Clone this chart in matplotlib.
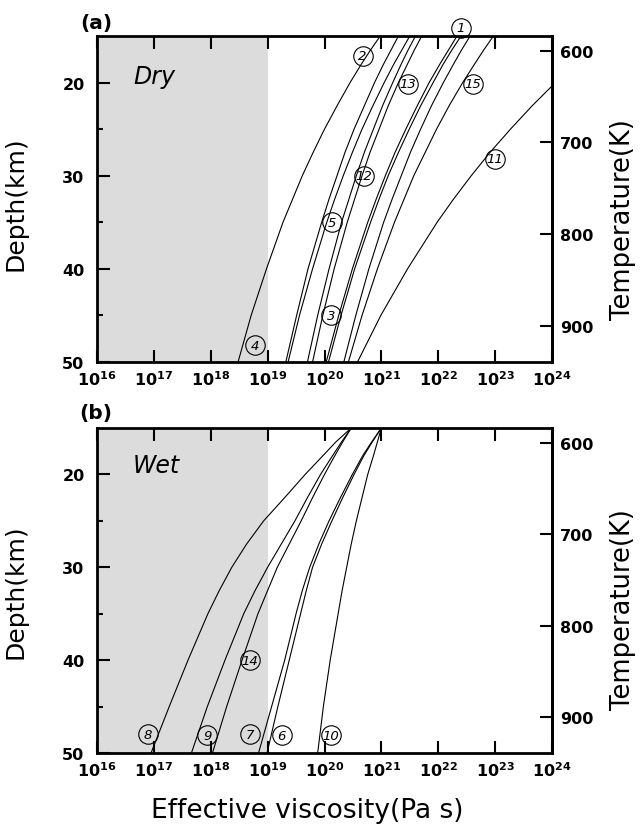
import numpy as np
import matplotlib.pyplot as plt
from matplotlib.ticker import NullLocator

plt.rcParams['font.family'] = 'DejaVu Sans'
plt.rcParams['font.weight'] = 'bold'

# depth (km) at which every curve is read
depth = [15, 16.5, 18, 20, 22.5, 25, 27.5, 30, 32.5, 35, 40, 45, 50]

# (a) dry: log10 effective viscosity at each depth
dry_a = [20.98, 20.81, 20.65, 20.45, 20.22, 20.00, 19.80, 19.61, 19.44, 19.27, 18.98, 18.71, 18.48]
dry_b = [21.30, 21.17, 21.04, 20.88, 20.70, 20.52, 20.36, 20.22, 20.08, 19.95, 19.71, 19.51, 19.32]
dry_c = [21.50, 21.36, 21.22, 21.05, 20.85, 20.66, 20.49, 20.33, 20.18, 20.04, 19.79, 19.56, 19.36]
dry_d = [21.60, 21.47, 21.35, 21.20, 21.02, 20.86, 20.70, 20.56, 20.43, 20.30, 20.08, 19.88, 19.70]
dry_e = [21.71, 21.58, 21.46, 21.30, 21.12, 20.96, 20.80, 20.66, 20.53, 20.40, 20.17, 19.97, 19.79]
dry_f = [22.33, 22.18, 22.03, 21.84, 21.63, 21.43, 21.24, 21.07, 20.91, 20.76, 20.49, 20.25, 20.03]
dry_g = [22.40, 22.24, 22.09, 21.91, 21.69, 21.49, 21.30, 21.12, 20.96, 20.81, 20.53, 20.29, 20.07]
dry_h = [22.56, 22.41, 22.27, 22.09, 21.88, 21.69, 21.51, 21.35, 21.19, 21.04, 20.78, 20.55, 20.34]
dry_i = [22.97, 22.80, 22.64, 22.43, 22.19, 21.97, 21.77, 21.57, 21.40, 21.23, 20.93, 20.66, 20.42]
dry_j = [25.00, 24.70, 24.42, 24.06, 23.65, 23.27, 22.91, 22.58, 22.27, 21.98, 21.46, 20.99, 20.58]

# (b) wet
wet_8 = [20.47, 20.20, 19.97, 19.66, 19.30, 18.93, 18.63, 18.37, 18.15, 17.95, 17.60, 17.27, 16.95]
wet_9 = [20.47, 20.30, 20.14, 19.93, 19.70, 19.48, 19.24, 19.00, 18.78, 18.58, 18.25, 17.94, 17.66]
wet_14 = [20.47, 20.32, 20.18, 20.00, 19.79, 19.59, 19.38, 19.17, 19.00, 18.83, 18.55, 18.28, 18.03]
wet_7 = [21.00, 20.83, 20.67, 20.49, 20.28, 20.08, 19.90, 19.74, 19.61, 19.50, 19.30, 19.07, 18.84]
wet_6 = [21.00, 20.84, 20.69, 20.52, 20.32, 20.13, 19.95, 19.79, 19.68, 19.58, 19.38, 19.18, 18.99]
wet_10 = [21.00, 20.93, 20.86, 20.76, 20.66, 20.56, 20.47, 20.39, 20.31, 20.24, 20.10, 19.98, 19.88]

# circled curve numbers
dry_labels = ['1', '2', '13', '15', '11', '12', '5', '3', '4']
dry_label_x = [22.40, 20.67, 21.47, 22.61, 22.99, 20.69, 20.13, 20.11, 18.78]
dry_label_d = [14.1, 17.1, 20.1, 20.1, 28.2, 30.0, 35.0, 45.0, 48.2]
wet_labels = ['14', '8', '9', '7', '6', '10']
wet_label_x = [18.69, 16.90, 17.94, 18.69, 19.25, 20.11]
wet_label_d = [40.0, 48.0, 48.1, 48.0, 48.1, 48.1]

temp_ticks = [600, 700, 800, 900]
decades = list(range(16, 25))


def d2t(d):
    return 432 + 10.14 * np.asarray(d)


def t2d(t):
    return (np.asarray(t) - 432) / 10.14


W, H = 641, 829
fig = plt.figure(figsize=(W / 100, H / 100), dpi=100)


def box(l, t, r, b):
    return [l / W, 1 - b / H, (r - l) / W, (b - t) / H]


def setup(ax):
    ax.set_xscale('log')
    ax.set_xlim(1e16, 1e24)
    ax.set_ylim(50, 15)
    ax.axvspan(1e16, 1e19, color='#dcdcdc', lw=0, zorder=0)
    ax.set_xticks([10.0 ** e for e in decades])
    ax.set_xticklabels([r'$\mathbf{10^{%d}}$' % e for e in decades])
    ax.xaxis.set_minor_locator(NullLocator())
    ax.set_yticks([20, 30, 40, 50])
    ax.set_yticks([25, 35, 45], minor=True)
    ax.tick_params(axis='x', which='major', direction='in', length=9, width=1.5,
                   top=True, labelsize=11.5, pad=5)
    ax.tick_params(axis='y', which='major', direction='in', length=9, width=1.5,
                   labelsize=11.5, pad=9)
    ax.tick_params(axis='y', which='minor', direction='in', length=4.5, width=1.5)
    for s in ax.spines.values():
        s.set_linewidth(2)
    sec = ax.secondary_yaxis('right', functions=(d2t, t2d))
    sec.set_yticks(temp_ticks)
    sec.yaxis.set_minor_locator(NullLocator())
    sec.tick_params(direction='in', length=9, width=1.5, labelsize=11.5, pad=6)
    sec.spines['right'].set_linewidth(2)


def circled(ax, labs, xs, ds):
    for lab, x, d in zip(labs, xs, ds):
        ax.plot(10 ** x, d, 'o', ms=14, mfc='none', mec='black', mew=0.8,
                clip_on=False, zorder=4)
        ax.text(10 ** x, d, lab, ha='center', va='center', style='italic',
                fontweight='normal', fontsize=9.5, zorder=5)


ax_dry = fig.add_axes(box(97, 37, 552, 363))
ax_wet = fig.add_axes(box(97, 429, 552, 754))
setup(ax_dry)
setup(ax_wet)

for c in [dry_a, dry_b, dry_c, dry_d, dry_e, dry_f, dry_g, dry_h, dry_i, dry_j]:
    ax_dry.plot(10 ** np.array(c), depth, color='black', lw=0.8)
for c in [wet_8, wet_9, wet_14, wet_7, wet_6, wet_10]:
    ax_wet.plot(10 ** np.array(c), depth, color='black', lw=0.8)

circled(ax_dry, dry_labels, dry_label_x, dry_label_d)
circled(ax_wet, wet_labels, wet_label_x, wet_label_d)

ax_dry.text(10 ** 17.0, 19.3, 'Dry', ha='center', va='center', style='italic',
            fontweight='normal', fontsize=17)
ax_wet.text(10 ** 17.04, 19.0, 'Wet', ha='center', va='center', style='italic',
            fontweight='normal', fontsize=17)

fig.text(96 / W, 1 - 23 / H, '(a)', ha='center', va='center', fontsize=14.5)
fig.text(96 / W, 1 - 414 / H, '(b)', ha='center', va='center', fontsize=14.5)

for yc in [204, 592]:
    fig.text(16 / W, 1 - yc / H, 'Depth(km)', rotation=90, ha='center',
             va='center', fontsize=18, fontweight='normal')
for yc in [220, 610]:
    fig.text(623 / W, 1 - yc / H, 'Temperature(K)', rotation=90, ha='center',
             va='center', fontsize=18.5, fontweight='normal')
fig.text(307 / W, 1 - 811 / H, 'Effective viscosity(Pa s)', ha='center',
         va='center', fontsize=19, fontweight='normal')

fig.savefig('out.png', dpi=100)
